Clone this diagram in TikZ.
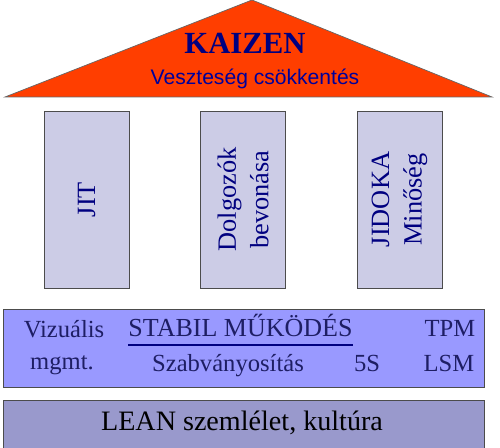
\documentclass[tikz,border=0pt]{standalone}
\usepackage{fontspec}
\setmainfont{Liberation Serif}
\newfontfamily\timesfont{Liberation Serif}
\newfontfamily\arialfont{Liberation Sans}
\definecolor{roof}{RGB}{255,62,0}
\definecolor{pillarfill}{RGB}{204,204,230}
\definecolor{stabilfill}{RGB}{153,153,255}
\definecolor{leanfill}{RGB}{153,153,204}
\definecolor{navy}{RGB}{0,0,128}
\definecolor{darktext}{RGB}{30,30,100}
\begin{document}
\begin{tikzpicture}[x=0.02cm, y=-0.02cm,
  pillar/.style={draw=black!70, fill=pillarfill, rotate=90, minimum width=3.54cm, minimum height=1.7cm, align=center, text=navy, font=\timesfont\fontsize{15}{18.5}\selectfont, inner sep=0pt},
  band/.style={draw=black!70, minimum width=9.62cm, inner sep=0pt},
  bandtext/.style={text=darktext, font=\timesfont\fontsize{14}{16}\selectfont, anchor=base, inner sep=0pt}]
\useasboundingbox (0,0) rectangle (500,448);
% roof
\draw[fill=roof, draw=black!60] (5,97) -- (252,0) -- (492,97) -- cycle;
\node (kaizen) [text=navy, font=\timesfont\bfseries\fontsize{17.5}{20}\selectfont, anchor=base] at (245,54) {KAIZEN};
\node (veszteseg) [text=navy!80!blue, font=\arialfont\fontsize{12}{14}\selectfont, anchor=base] at (255,85) {Veszteség csökkentés};
% pillars
\node (jit) [pillar] at (86.5,199.5) {JIT};
\node (dolgozok) [pillar] at (243,199.5) {Dolgozók\\bevonása};
\node (jidoka) [pillar] at (399.5,199.5) {JIDOKA\\Minőség};
% stable operation band
\node (stabilband) [band, fill=stabilfill, minimum height=1.56cm] at (243.5,348) {};
\node (vizualis) [bandtext] at (64,338) {Vizuális};
\node (mgmt) [bandtext] at (62,370) {mgmt.};
\node (stabil) [bandtext, font=\timesfont\fontsize{14.8}{16}\selectfont] at (240.5,337) {STABIL MŰKÖDÉS};
\node (tpm) [bandtext] at (450,337) {TPM};
\node (szabv) [bandtext] at (228,372) {Szabványosítás};
\node (fives) [bandtext] at (367,372) {5S};
\node (lsm) [bandtext] at (449,372) {LSM};
\draw[navy, line width=0.9pt] ([yshift=-4.5pt]stabil.base west) -- ([yshift=-4.5pt]stabil.base east);
% foundation
\node (leanband) [band, fill=leanfill, minimum height=1.1cm] at (243.5,428) {};
\node (lean) [anchor=base, font=\timesfont\fontsize{16}{18}\selectfont, inner sep=0pt] at (242,431) {LEAN szemlélet, kultúra};
\end{tikzpicture}
\end{document}
